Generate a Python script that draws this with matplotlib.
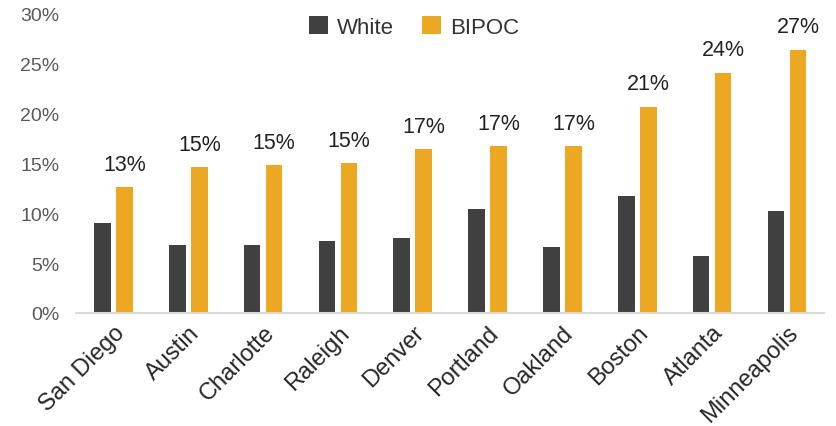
import numpy as np
import matplotlib.pyplot as plt

cities = ["San Diego", "Austin", "Charlotte", "Raleigh", "Denver",
          "Portland", "Oakland", "Boston", "Atlanta", "Minneapolis"]
white = [9.0, 6.8, 6.8, 7.2, 7.5, 10.4, 6.6, 11.7, 5.7, 10.2]
bipoc = [12.6, 14.6, 14.8, 15.0, 16.4, 16.7, 16.7, 20.7, 24.1, 26.4]
bipoc_labels = ["13%", "15%", "15%", "15%", "17%", "17%", "17%", "21%", "24%", "27%"]
yticks = [0, 5, 10, 15, 20, 25, 30]

WHITE_COLOR = "#404040"
BIPOC_COLOR = "#ECA823"

plt.rcParams['font.family'] = ['Liberation Sans', 'DejaVu Sans']

fig = plt.figure(figsize=(8.36, 4.27), dpi=100)
ax = fig.add_axes([0.091, 0.265, 0.895, 0.7])

x = np.arange(len(cities))
w = 0.223
off = 0.147
ax.bar(x - off, white, w, color=WHITE_COLOR, label="White")
bars = ax.bar(x + off, bipoc, w, color=BIPOC_COLOR, label="BIPOC")

for b, lab in zip(bars, bipoc_labels):
    ax.annotate(lab, (b.get_x() + b.get_width() / 2, b.get_height()),
                xytext=(0, 9), textcoords="offset points",
                ha="center", va="bottom", fontsize=15.5, color="#222222")

ax.set_xlim(-0.5, len(cities) - 0.5)
ax.set_ylim(0, 30)
ax.set_yticks(yticks)
ax.set_yticklabels([f"{t}%" for t in yticks], fontsize=14, color="#595959")
ax.set_xticks(x)
ax.set_xticklabels(cities, rotation=45, ha="right", rotation_mode="anchor",
                   fontsize=17, color="#262626")
ax.tick_params(axis="both", length=0)
ax.tick_params(axis="y", pad=12)
ax.tick_params(axis="x", pad=6)

for s in ["top", "right", "left"]:
    ax.spines[s].set_visible(False)
ax.spines["bottom"].set_color("#D9D9D9")
ax.spines["bottom"].set_linewidth(1.5)

fig.legend(loc="center", bbox_to_anchor=(414 / 836, 1 - 28 / 427), ncol=2,
           frameon=False, fontsize=16, handlelength=0.85, handleheight=0.85,
           handletextpad=0.4, columnspacing=1.3, labelcolor="#333333")

fig.savefig("out.png", dpi=100)
